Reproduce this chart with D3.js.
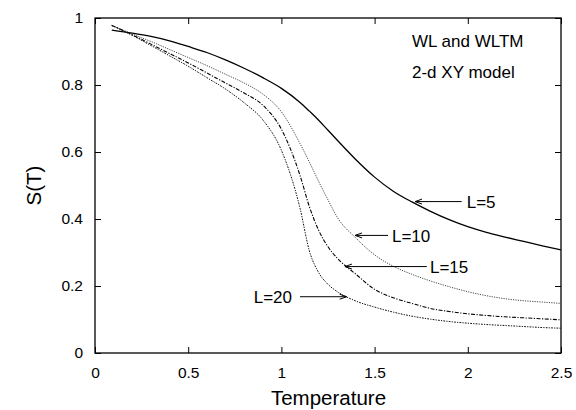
<!DOCTYPE html>
<html><head><meta charset="utf-8">
<script src="https://cdn.jsdelivr.net/npm/d3@7"></script>
<style>body{margin:0;background:#fff}svg{display:block}text{font-family:"Liberation Sans",Arial,sans-serif;fill:#000}</style>
</head><body><svg id="c" width="576" height="410"></svg>
<script>
const temps = [0.09,0.2,0.3,0.4,0.5,0.6,0.7,0.8,0.9,1.0,1.1,1.15,1.2,1.25,1.3,1.4,1.5,1.6,1.7,1.8,1.9,2.0,2.1,2.2,2.3,2.4,2.5];
const sL5  = [0.964,0.955,0.945,0.932,0.915,0.897,0.875,0.85,0.822,0.79,0.748,0.722,0.695,0.665,0.635,0.577,0.525,0.483,0.451,0.423,0.398,0.377,0.36,0.346,0.333,0.32,0.308];
const sL10 = [0.978,0.952,0.93,0.906,0.882,0.858,0.832,0.806,0.773,0.72,0.625,0.57,0.512,0.457,0.405,0.343,0.293,0.259,0.235,0.215,0.198,0.183,0.171,0.162,0.156,0.152,0.148];
const sL15 = [0.978,0.95,0.922,0.894,0.866,0.836,0.806,0.776,0.74,0.668,0.53,0.437,0.366,0.317,0.283,0.235,0.19,0.165,0.148,0.133,0.124,0.117,0.112,0.108,0.105,0.102,0.099];
const sL20 = [0.978,0.948,0.918,0.887,0.856,0.822,0.788,0.747,0.696,0.605,0.432,0.305,0.24,0.205,0.183,0.155,0.137,0.122,0.11,0.101,0.094,0.089,0.085,0.082,0.079,0.076,0.074];
const xTicks = [0,0.5,1,1.5,2,2.5];
const yTicks = [0,0.2,0.4,0.6,0.8,1];
const xTickLabels = ["0","0.5","1","1.5","2","2.5"];
const yTickLabels = ["0","0.2","0.4","0.6","0.8","1"];
const seriesNames = ["L=5","L=10","L=15","L=20"];
// label anchor (T,S), arrow start (T,S) and arrow tip (T,S)
const labelAt = [[1.994,0.452],[1.593,0.351],[1.797,0.258],[1.057,0.168]];
const arrowFrom = [[1.967,0.452],[1.572,0.351],[1.78,0.258],[1.10,0.168]];
const arrowTip = [[1.717,0.452],[1.395,0.351],[1.341,0.258],[1.35,0.168]];

const L=95,R=561,T=18,B=353;
const svg=d3.select("#c");
const x=d3.scaleLinear().domain([0,2.5]).range([L,R]);
const y=d3.scaleLinear().domain([0,1]).range([B,T]);

svg.append("rect").attr("x",L).attr("y",T).attr("width",R-L).attr("height",B-T)
  .attr("fill","none").attr("stroke","#000").attr("stroke-width",1.3);
const fmtX=(d,i)=>xTickLabels[i], fmtY=(d,i)=>yTickLabels[i];
const ax=svg.append("g").attr("transform",`translate(0,${B})`)
  .call(d3.axisBottom(x).tickValues(xTicks).tickFormat(fmtX).tickSizeInner(-6).tickSizeOuter(0).tickPadding(14));
const ax2=svg.append("g").attr("transform",`translate(0,${T})`)
  .call(d3.axisTop(x).tickValues(xTicks).tickFormat("").tickSizeInner(-6).tickSizeOuter(0));
const ay=svg.append("g").attr("transform",`translate(${L},0)`)
  .call(d3.axisLeft(y).tickValues(yTicks).tickFormat(fmtY).tickSizeInner(-6).tickSizeOuter(0).tickPadding(12));
const ay2=svg.append("g").attr("transform",`translate(${R},0)`)
  .call(d3.axisRight(y).tickValues(yTicks).tickFormat("").tickSizeInner(-6).tickSizeOuter(0));
[ax,ax2,ay,ay2].forEach(g=>{g.select(".domain").remove();g.selectAll("line").attr("stroke","#000");
  g.selectAll("text").attr("font-size",15.5).attr("font-family","Liberation Sans, Arial, sans-serif").attr("fill","#000");});

svg.append("text").attr("x",(L+R)/2+0.5).attr("y",405).attr("text-anchor","middle").attr("font-size",20.5).text("Temperature");
svg.append("text").attr("transform",`translate(41,${(T+B)/2}) rotate(-90)`).attr("text-anchor","middle").attr("font-size",20.5).text("S(T)");

const series=[sL5,sL10,sL15,sL20];
const dashes=[null,"1.2,1.2","4,1.5,1.2,1.5","1.8,1.2,1.2,1.2"];
const widths=[1.3,0.9,1.1,1.0];
const colors=["#000","#333","#000","#111"];
const line=d3.line().x(d=>x(d[0])).y(d=>y(d[1])).curve(d3.curveMonotoneX);
series.forEach((s,i)=>{
  svg.append("path").datum(temps.map((t,j)=>[t,s[j]])).attr("d",line)
    .attr("fill","none").attr("stroke",colors[i]).attr("stroke-width",widths[i])
    .attr("stroke-dasharray",dashes[i]);
});

seriesNames.forEach((n,i)=>{
  const fx=x(arrowFrom[i][0]), fy=y(arrowFrom[i][1]), tx=x(arrowTip[i][0]), ty=y(arrowTip[i][1]);
  svg.append("line").attr("x1",fx).attr("y1",fy).attr("x2",tx).attr("y2",ty).attr("stroke","#000").attr("stroke-width",1);
  const dir=Math.sign(fx-tx);
  svg.append("path").attr("d",`M${tx+dir*7},${ty-2.5}L${tx},${ty}L${tx+dir*7},${ty+2.5}`)
    .attr("fill","none").attr("stroke","#000").attr("stroke-width",1);
  const lx=x(labelAt[i][0]), ly=y(labelAt[i][1]);
  svg.append("text").attr("x",lx).attr("y",ly).attr("dy","0.36em")
    .attr("text-anchor",i===3?"end":"start").attr("font-size",17).text(n);
});

svg.append("text").attr("x",412).attr("y",47).attr("font-size",17).text("WL and WLTM");
svg.append("text").attr("x",412).attr("y",78).attr("font-size",17).text("2-d XY model");
</script></body></html>
